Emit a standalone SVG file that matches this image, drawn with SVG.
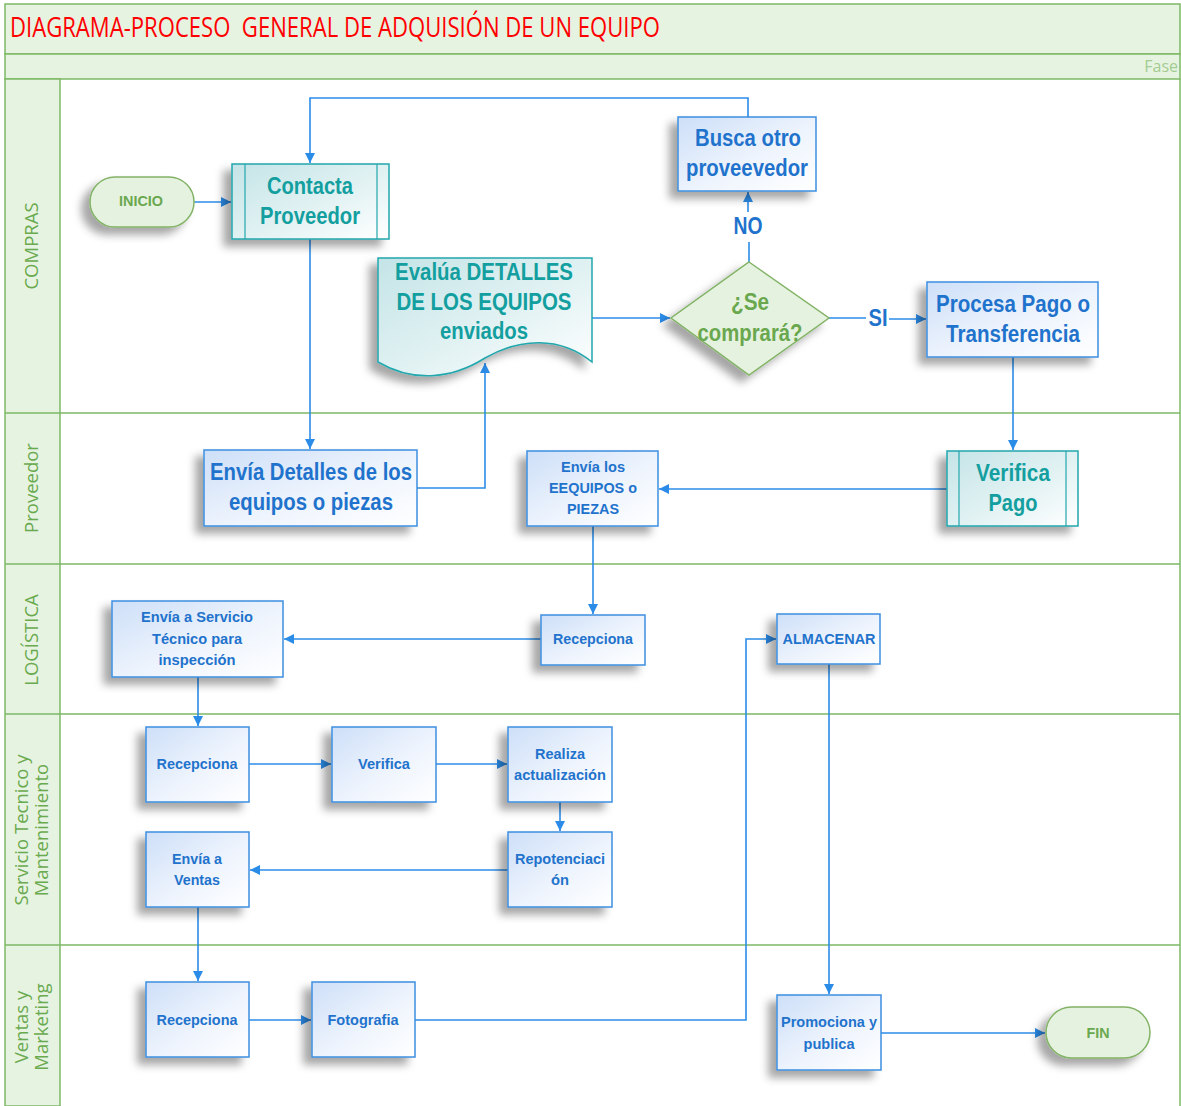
<svg xmlns="http://www.w3.org/2000/svg" width="1181" height="1106" viewBox="0 0 1181 1106">
<defs>
<linearGradient id="gBlue" x1="0" y1="0" x2="1" y2="1">
<stop offset="0" stop-color="#cddff8"/><stop offset="0.55" stop-color="#eef4fd"/><stop offset="1" stop-color="#ffffff"/>
</linearGradient>
<linearGradient id="gTeal" x1="0" y1="0" x2="1" y2="1">
<stop offset="0" stop-color="#c4e4e7"/><stop offset="0.55" stop-color="#e2f2f3"/><stop offset="1" stop-color="#ffffff"/>
</linearGradient>
<filter id="sh" x="-30%" y="-30%" width="160%" height="170%">
<feDropShadow dx="-8" dy="7" stdDeviation="4" flood-color="#000" flood-opacity="0.35"/>
</filter>
<marker id="ah" viewBox="0 0 10 10" refX="10" refY="5" markerWidth="10" markerHeight="10" markerUnits="userSpaceOnUse" orient="auto">
<path d="M0,0 L10,5 L0,10 Z" fill="#2b8ce8"/>
</marker>
</defs>
<style>
.band{fill:#e7f3e1;stroke:#7db964;stroke-width:1.5}
.lane{stroke:#7db964;stroke-width:1.5;fill:none}
.ll{font-family:"Open Sans","Liberation Sans",sans-serif;font-size:18.5px;fill:#6aaa4f;text-anchor:middle}
.blue{fill:url(#gBlue);stroke:#3d8fe0;stroke-width:1.5;filter:url(#sh)}
.teal{fill:url(#gTeal);stroke:#22a7ad;stroke-width:1.5;filter:url(#sh)}
.bar{stroke:#22a7ad;stroke-width:1.2;fill:none}
.term{fill:#e6f2e0;stroke:#82b366;stroke-width:1.5;filter:url(#sh)}
.t{font-family:"Liberation Sans",Arial,sans-serif;font-weight:bold;text-anchor:middle}
.tb{fill:#1f73cc}
.tt{fill:#139f9f}
.tg{fill:#6aa84f}
.c{fill:none;stroke:#2b8ce8;stroke-width:1.6;marker-end:url(#ah)}
.cn{fill:none;stroke:#2b8ce8;stroke-width:1.6}
</style>
<rect x="0" y="0" width="1181" height="1106" fill="#ffffff"/>
<g id="pool">
<rect class="band" x="5" y="4" width="1175" height="50"/>
<rect class="band" x="5" y="54" width="1175" height="25"/>
<rect class="band" x="5" y="79" width="55" height="1027"/>
<line class="lane" x1="1180" y1="79" x2="1180" y2="1106"/>
<line class="lane" x1="5" y1="413" x2="1180" y2="413"/>
<line class="lane" x1="5" y1="564" x2="1180" y2="564"/>
<line class="lane" x1="5" y1="714" x2="1180" y2="714"/>
<line class="lane" x1="5" y1="945" x2="1180" y2="945"/>
<text x="10" y="37" xml:space="preserve" style="white-space:pre" font-family="'Open Sans','Liberation Sans',sans-serif" font-size="27" fill="#ff0000" textLength="650" lengthAdjust="spacingAndGlyphs">DIAGRAMA-PROCESO  GENERAL DE ADQUISIÓN DE UN EQUIPO</text>
<text x="1178" y="72" font-family="'Open Sans','Liberation Sans',sans-serif" font-size="16" fill="#a3cc92" text-anchor="end">Fase</text>
<text class="ll" transform="translate(38,246) rotate(-90)">COMPRAS</text>
<text class="ll" transform="translate(38,488) rotate(-90)">Proveedor</text>
<text class="ll" transform="translate(38,640) rotate(-90)">LOGÍSTICA</text>
<text class="ll" transform="translate(28,830) rotate(-90)">Servicio Tecnico y</text>
<text class="ll" transform="translate(48,830) rotate(-90)">Mantenimiento</text>
<text class="ll" transform="translate(28,1027) rotate(-90)">Ventas y</text>
<text class="ll" transform="translate(48,1027) rotate(-90)">Marketing</text>
</g>
<g id="connectors">
<path class="c" d="M194,202 H231"/>
<path class="c" d="M748,117 V98 H310 V163"/>
<path class="c" d="M310,239 V449"/>
<path class="c" d="M417,488 H485 V363"/>
<path class="c" d="M592,318 H670"/>
<path class="cn" d="M749,262 V242"/>
<path class="c" d="M748,212 V192"/>
<path class="cn" d="M829,318 H866"/>
<path class="c" d="M889,319 H926"/>
<path class="c" d="M1013,357 V450"/>
<path class="c" d="M947,489 H659"/>
<path class="c" d="M593,526 V614"/>
<path class="c" d="M541,639 H284"/>
<path class="c" d="M198,677 V726"/>
<path class="c" d="M249,764 H331"/>
<path class="c" d="M436,764 H507"/>
<path class="c" d="M560,802 V831"/>
<path class="c" d="M508,870 H250"/>
<path class="c" d="M198,907 V981"/>
<path class="c" d="M249,1020 H311"/>
<path class="c" d="M415,1020 H746 V639 H776"/>
<path class="c" d="M829,664 V994"/>
<path class="c" d="M881,1033 H1045"/>
<text class="t tb" x="748" y="234" font-size="23" textLength="29" lengthAdjust="spacingAndGlyphs">NO</text>
<text class="t tb" x="878" y="326" font-size="23" textLength="19" lengthAdjust="spacingAndGlyphs">SI</text>
</g>
<g id="inicio">
<rect class="term" x="90" y="177" width="104" height="50" rx="25"/>
<text class="t tg" x="141" y="206" font-size="15" textLength="44" lengthAdjust="spacingAndGlyphs">INICIO</text>
</g>
<g id="contacta">
<rect class="teal" x="232" y="164" width="157" height="75"/>
<line class="bar" x1="245" y1="164" x2="245" y2="239"/>
<line class="bar" x1="377" y1="164" x2="377" y2="239"/>
<text class="t tt" x="310" y="194" font-size="23" textLength="86" lengthAdjust="spacingAndGlyphs">Contacta</text>
<text class="t tt" x="310" y="224" font-size="23" textLength="100" lengthAdjust="spacingAndGlyphs">Proveedor</text>
</g>
<g id="evalua">
<path class="teal" d="M378,258 H592 V362 C560,336 520,338 485,358 C450,380 412,382 378,362 Z"/>
<text class="t tt" x="484" y="280" font-size="23" textLength="178" lengthAdjust="spacingAndGlyphs">Evalúa DETALLES</text>
<text class="t tt" x="484" y="310" font-size="23" textLength="175" lengthAdjust="spacingAndGlyphs">DE LOS EQUIPOS</text>
<text class="t tt" x="484" y="339" font-size="23" textLength="88" lengthAdjust="spacingAndGlyphs">enviados</text>
</g>
<g id="decision">
<path class="term" d="M749,262 L829,318 L749,375 L671,318 Z"/>
<text class="t tg" x="750" y="310" font-size="23" textLength="38" lengthAdjust="spacingAndGlyphs">¿Se</text>
<text class="t tg" x="750" y="341" font-size="23" textLength="105" lengthAdjust="spacingAndGlyphs">comprará?</text>
</g>
<g id="busca">
<rect class="blue" x="678" y="117" width="138" height="74"/>
<text class="t tb" x="748" y="146" font-size="23" textLength="106" lengthAdjust="spacingAndGlyphs">Busca otro</text>
<text class="t tb" x="747" y="176" font-size="23" textLength="122" lengthAdjust="spacingAndGlyphs">proveevedor</text>
</g>
<g id="procesa">
<rect class="blue" x="927" y="282" width="171" height="75"/>
<text class="t tb" x="1013" y="312" font-size="23" textLength="154" lengthAdjust="spacingAndGlyphs">Procesa Pago o</text>
<text class="t tb" x="1013" y="342" font-size="23" textLength="134" lengthAdjust="spacingAndGlyphs">Transferencia</text>
</g>
<g id="envia-detalles">
<rect class="blue" x="204" y="450" width="213" height="76"/>
<text class="t tb" x="311" y="480" font-size="23" textLength="202" lengthAdjust="spacingAndGlyphs">Envía Detalles de los</text>
<text class="t tb" x="311" y="510" font-size="23" textLength="164" lengthAdjust="spacingAndGlyphs">equipos o piezas</text>
</g>
<g id="envia-equipos">
<rect class="blue" x="527" y="451" width="131" height="75"/>
<text class="t tb" x="593" y="472" font-size="15.5" textLength="64" lengthAdjust="spacingAndGlyphs">Envía los</text>
<text class="t tb" x="593" y="493" font-size="15.5" textLength="88" lengthAdjust="spacingAndGlyphs">EEQUIPOS o</text>
<text class="t tb" x="593" y="514" font-size="15.5" textLength="52" lengthAdjust="spacingAndGlyphs">PIEZAS</text>
</g>
<g id="verifica-pago">
<rect class="teal" x="947" y="451" width="131" height="75"/>
<line class="bar" x1="959" y1="451" x2="959" y2="526"/>
<line class="bar" x1="1066" y1="451" x2="1066" y2="526"/>
<text class="t tt" x="1013" y="481" font-size="23" textLength="74" lengthAdjust="spacingAndGlyphs">Verifica</text>
<text class="t tt" x="1013" y="511" font-size="23" textLength="49" lengthAdjust="spacingAndGlyphs">Pago</text>
</g>
<g id="envia-servicio">
<rect class="blue" x="112" y="601" width="171" height="76"/>
<text class="t tb" x="197" y="622" font-size="15.5" textLength="112" lengthAdjust="spacingAndGlyphs">Envía a Servicio</text>
<text class="t tb" x="197" y="644" font-size="15.5" textLength="90" lengthAdjust="spacingAndGlyphs">Técnico para</text>
<text class="t tb" x="197" y="665" font-size="15.5" textLength="77" lengthAdjust="spacingAndGlyphs">inspección</text>
</g>
<g id="recepciona-log">
<rect class="blue" x="541" y="615" width="104" height="50"/>
<text class="t tb" x="593" y="644" font-size="15.5" textLength="80" lengthAdjust="spacingAndGlyphs">Recepciona</text>
</g>
<g id="almacenar">
<rect class="blue" x="777" y="614" width="103" height="50"/>
<text class="t tb" x="829" y="644" font-size="15.5" textLength="93" lengthAdjust="spacingAndGlyphs">ALMACENAR</text>
</g>
<g id="recepciona-st">
<rect class="blue" x="146" y="727" width="103" height="75"/>
<text class="t tb" x="197" y="769" font-size="15.5" textLength="81" lengthAdjust="spacingAndGlyphs">Recepciona</text>
</g>
<g id="verifica">
<rect class="blue" x="332" y="727" width="104" height="75"/>
<text class="t tb" x="384" y="769" font-size="15.5" textLength="52" lengthAdjust="spacingAndGlyphs">Verifica</text>
</g>
<g id="realiza">
<rect class="blue" x="508" y="727" width="104" height="75"/>
<text class="t tb" x="560" y="759" font-size="15.5" textLength="50" lengthAdjust="spacingAndGlyphs">Realiza</text>
<text class="t tb" x="560" y="780" font-size="15.5" textLength="92" lengthAdjust="spacingAndGlyphs">actualización</text>
</g>
<g id="repotenciacion">
<rect class="blue" x="508" y="832" width="104" height="75"/>
<text class="t tb" x="560" y="864" font-size="15.5" textLength="90" lengthAdjust="spacingAndGlyphs">Repotenciaci</text>
<text class="t tb" x="560" y="885" font-size="15.5" textLength="18" lengthAdjust="spacingAndGlyphs">ón</text>
</g>
<g id="envia-ventas">
<rect class="blue" x="146" y="832" width="103" height="75"/>
<text class="t tb" x="197" y="864" font-size="15.5" textLength="50" lengthAdjust="spacingAndGlyphs">Envía a</text>
<text class="t tb" x="197" y="885" font-size="15.5" textLength="46" lengthAdjust="spacingAndGlyphs">Ventas</text>
</g>
<g id="recepciona-v">
<rect class="blue" x="146" y="982" width="103" height="75"/>
<text class="t tb" x="197" y="1025" font-size="15.5" textLength="81" lengthAdjust="spacingAndGlyphs">Recepciona</text>
</g>
<g id="fotografia">
<rect class="blue" x="312" y="982" width="103" height="75"/>
<text class="t tb" x="363" y="1025" font-size="15.5" textLength="71" lengthAdjust="spacingAndGlyphs">Fotografia</text>
</g>
<g id="promociona">
<rect class="blue" x="777" y="995" width="104" height="75"/>
<text class="t tb" x="829" y="1027" font-size="15.5" textLength="96" lengthAdjust="spacingAndGlyphs">Promociona y</text>
<text class="t tb" x="829" y="1049" font-size="15.5" textLength="51" lengthAdjust="spacingAndGlyphs">publica</text>
</g>
<g id="fin">
<rect class="term" x="1046" y="1007" width="104" height="51" rx="25.5"/>
<text class="t tg" x="1098" y="1038" font-size="15.5" textLength="23" lengthAdjust="spacingAndGlyphs">FIN</text>
</g>
</svg>
